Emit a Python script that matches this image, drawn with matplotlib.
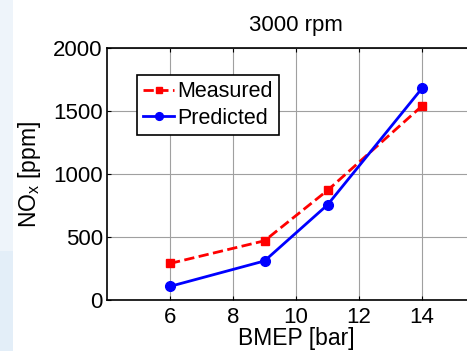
import matplotlib
matplotlib.use("Agg")
import matplotlib.pyplot as plt
from matplotlib.patches import Rectangle

# -----------------------------
# Data
# -----------------------------
bmep = [6, 9, 11, 14]
measured = [290, 470, 870, 1540]
predicted = [108, 310, 755, 1680]
x_ticks = [6, 8, 10, 12, 14]
y_ticks = [0, 500, 1000, 1500, 2000]

plt.rcParams["font.family"] = ["Liberation Sans", "DejaVu Sans"]
plt.rcParams["font.size"] = 16

W, H = 467, 351
fig = plt.figure(figsize=(W / 100, H / 100), dpi=100)
fig.patch.set_facecolor("white")

# light blue strip on the left edge (slide background)
fig.patches.append(Rectangle((0, 100 / H), 13 / W, 1 - 100 / H, transform=fig.transFigure,
                             facecolor="#eef4fa", edgecolor="none", zorder=0))
fig.patches.append(Rectangle((0, 0), 13 / W, 100 / H, transform=fig.transFigure,
                             facecolor="#e3eef8", edgecolor="none", zorder=0))

# axes: left 107px, top 48px, bottom 300px, right runs past the image edge
left, right, top, bottom = 107, 485, 48, 300
ax = fig.add_axes([left / W, (H - bottom) / H, (right - left) / W, (bottom - top) / H])

ax.plot(bmep, measured, color="red", linestyle="--", linewidth=2,
        marker="s", markersize=6, label="Measured")
ax.plot(bmep, predicted, color="blue", linestyle="-", linewidth=2,
        marker="o", markersize=7, label="Predicted")

ax.set_xlim(4, 16)
ax.set_ylim(0, 2000)
ax.set_xticks(x_ticks)
ax.set_yticks(y_ticks)
ax.grid(True, color="#a0a0a0", linewidth=0.8)
ax.set_axisbelow(True)
ax.tick_params(direction="in", top=True, right=True, length=3, width=0.8, labelsize=16)
ax.tick_params(axis="x", pad=5)
ax.tick_params(axis="y", pad=3)
for s in ax.spines.values():
    s.set_linewidth(1.2)

ax.set_title("3000 rpm", fontsize=16, pad=12)
ax.set_xlabel("BMEP [bar]", fontsize=16.5, labelpad=-1)
ax.set_ylabel("NO$_\\mathregular{x}$ [ppm]", fontsize=16.5, labelpad=7)

leg = ax.legend(loc="upper left", bbox_to_anchor=(30 / (right - left), 1 - 27 / (bottom - top)),
                fontsize=15.5, fancybox=False, framealpha=1, edgecolor="black",
                handlelength=1.4, handletextpad=0.15, borderpad=0.3, labelspacing=0.25,
                borderaxespad=0, markerscale=0.8)
leg.get_frame().set_linewidth(1.2)

fig.savefig("out.png", dpi=100)
